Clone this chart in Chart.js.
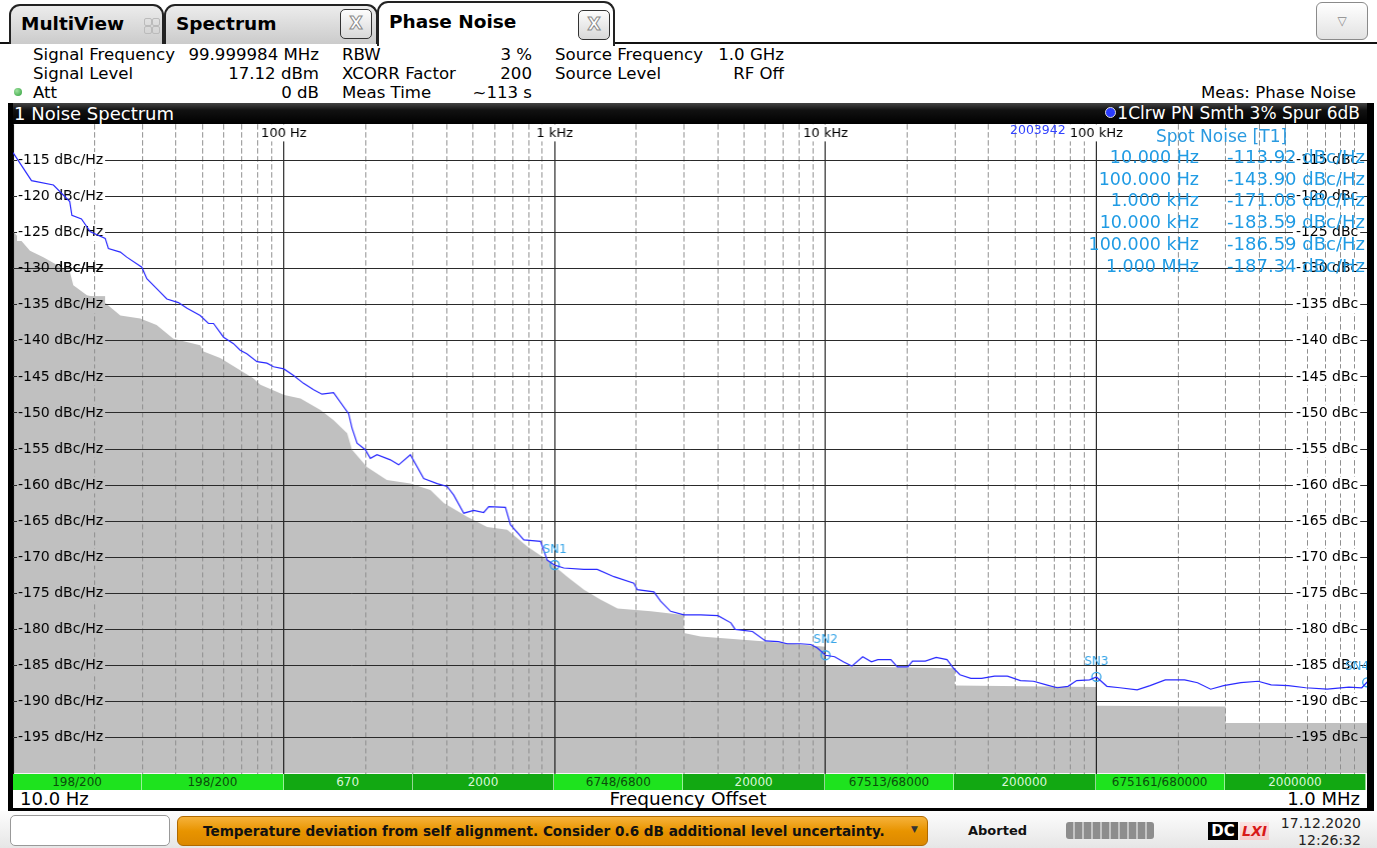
<!DOCTYPE html>
<html><head><meta charset="utf-8">
<script src="https://cdn.jsdelivr.net/npm/chart.js@4.4.0/dist/chart.umd.min.js"></script>
<style>
body{margin:0;width:1377px;height:848px;overflow:hidden;background:#fff;font-family:'DejaVu Sans',sans-serif;position:relative;color:#000}
.a{position:absolute;white-space:nowrap}
.tab{position:absolute;border:2px solid #222;border-bottom:none;border-radius:11px 11px 0 0;box-sizing:border-box}
.tabt{position:absolute;font-weight:bold;font-size:18.5px;top:7px}
.xb{position:absolute;width:32px;height:30px;border:1.5px solid #333;border-radius:5px;box-sizing:border-box;background:linear-gradient(#fdfdfd,#d8d8d8);text-align:center;font:bold 17px 'DejaVu Sans';line-height:27px;color:#fff;-webkit-text-stroke:1px #8a8a8a}
.hl{font-size:16.6px;line-height:19px}
.seg{position:absolute;top:774px;height:16px;font-size:12px;line-height:16px;text-align:center;box-sizing:border-box;border-right:1px solid rgba(255,255,255,0.55);overflow:hidden}
#wrap{position:absolute;z-index:1}
.bar{position:absolute;background:#000;z-index:3}
</style></head><body>

<!-- tab strip -->
<div class="a" style="left:0;top:42px;width:1377px;height:2px;background:#111"></div>
<div class="tab" style="left:9px;top:4px;width:155px;height:40px;background:linear-gradient(#ececec,#cbcbcb)">
  <div class="tabt" style="left:10px">MultiView</div>
  <div class="a" style="left:133px;top:12px;width:6px;height:6px;border:1px solid #bbb;border-radius:2px"></div>
  <div class="a" style="left:141px;top:12px;width:6px;height:6px;border:1px solid #bbb;border-radius:2px"></div>
  <div class="a" style="left:133px;top:20px;width:6px;height:6px;border:1px solid #bbb;border-radius:2px"></div>
  <div class="a" style="left:141px;top:20px;width:6px;height:6px;border:1px solid #bbb;border-radius:2px"></div>
</div>
<div class="tab" style="left:164px;top:4px;width:214px;height:40px;background:linear-gradient(#ececec,#cbcbcb)">
  <div class="tabt" style="left:10px">Spectrum</div>
  <div class="xb" style="left:174px;top:3px">X</div>
</div>
<div class="tab" style="left:377px;top:1px;width:238px;height:45px;background:#fff;z-index:2">
  <div class="tabt" style="left:10px;top:8px">Phase Noise</div>
  <div class="xb" style="left:199px;top:7px">X</div>
</div>
<div class="a" style="left:1316px;top:2px;width:52px;height:38px;border:1px solid #8a8a8a;border-radius:6px;box-sizing:border-box;background:linear-gradient(#fff,#e2e2e2);text-align:center;line-height:36px;font-size:12px;color:#888">▽</div>

<!-- header -->
<div class="a hl" style="left:33px;top:45px">Signal Frequency</div>
<div class="a hl" style="left:33px;top:64px">Signal Level</div>
<div class="a hl" style="left:33px;top:83px">Att</div>
<div class="a" style="left:14px;top:88px;width:8px;height:8px;border-radius:50%;background:radial-gradient(circle at 35% 35%,#9fe39f,#2e9e3a)"></div>
<div class="a hl" style="right:1058px;top:45px">99.999984 MHz</div>
<div class="a hl" style="right:1058px;top:64px">17.12 dBm</div>
<div class="a hl" style="right:1058px;top:83px">0 dB</div>
<div class="a hl" style="left:342px;top:45px">RBW</div>
<div class="a hl" style="left:342px;top:64px">XCORR Factor</div>
<div class="a hl" style="left:342px;top:83px">Meas Time</div>
<div class="a hl" style="right:845px;top:45px">3 %</div>
<div class="a hl" style="right:845px;top:64px">200</div>
<div class="a hl" style="right:845px;top:83px">~113 s</div>
<div class="a hl" style="left:555px;top:45px">Source Frequency</div>
<div class="a hl" style="left:555px;top:64px">Source Level</div>
<div class="a hl" style="right:593px;top:45px">1.0 GHz</div>
<div class="a hl" style="right:593px;top:64px">RF Off</div>
<div class="a hl" style="right:21px;top:83px">Meas: Phase Noise</div>

<!-- frame -->
<div class="bar" style="left:8px;top:103px;width:1366px;height:21px;background:linear-gradient(#444 0,#111 35%,#000 100%)"></div>
<div class="a" style="left:14px;top:103px;height:21px;line-height:21px;font-size:18px;color:#fff;z-index:4">1 Noise Spectrum</div>
<div class="a" style="right:17px;top:103px;height:21px;line-height:21px;font-size:17px;color:#fff;z-index:4"><span style="display:inline-block;width:9px;height:9px;border-radius:50%;background:#2a3cff;border:1px solid #ddd;vertical-align:1px;margin-right:1px"></span>1Clrw PN Smth 3% Spur 6dB</div>
<div class="bar" style="left:8px;top:103px;width:5px;height:708px"></div>
<div class="bar" style="left:1367px;top:103px;width:7px;height:708px"></div>
<div class="bar" style="left:8px;top:808px;width:1366px;height:3px"></div>

<div id="wrap"><canvas id="c"></canvas></div>

<!-- spot noise table -->
<div class="a" style="left:1156px;top:126px;font-size:17px;color:#2a9ae0;z-index:2">Spot Noise [T1]</div>
<div id="spot"></div>
<div class="a" style="left:1010px;top:122px;font-size:12.5px;color:#3344ff;z-index:2">2003942</div>

<div id="segs"></div>
<div class="a" style="left:20px;top:789px;font-size:18px;line-height:20px">10.0 Hz</div>
<div class="a" style="left:688px;top:789px;font-size:18.5px;line-height:20px;transform:translateX(-50%)">Frequency Offset</div>
<div class="a" style="right:17px;top:789px;font-size:18px;line-height:20px">1.0 MHz</div>

<!-- status bar -->
<div class="a" style="left:0;top:811px;width:1377px;height:37px;background:linear-gradient(#fdfdfd,#e6e6e6)"></div>
<div class="a" style="left:10px;top:815px;width:160px;height:31px;border:1px solid #999;border-radius:5px;background:#fff;box-sizing:border-box"></div>
<div class="a" style="left:177px;top:816px;width:751px;height:30px;border:1px solid #b06a00;border-radius:6px;background:linear-gradient(#f6b23a,#e89400 50%,#dc8800);box-sizing:border-box"></div>
<div class="a" style="left:203px;top:822px;font:bold 13.6px 'DejaVu Sans';line-height:18px;color:#111">Temperature deviation from self alignment. Consider 0.6 dB additional level uncertainty.</div>
<div class="a" style="left:911px;top:824px;font-size:9px;color:#333">▼</div>
<div class="a" style="left:968px;top:822px;font:bold 13px 'DejaVu Sans';line-height:17px;color:#111">Aborted</div>
<div class="a" style="left:1066px;top:822px;width:88px;height:17px;border-radius:3px;background:repeating-linear-gradient(90deg,#8d8d8d 0 7px,#c4c4c4 7px 9px)"></div>
<div class="a" style="left:1208px;top:822px;width:30px;height:18px;background:#000;color:#fff;font:bold 15px 'DejaVu Sans';line-height:18px;text-align:center">DC</div>
<div class="a" style="left:1240px;top:822px;width:29px;height:18px;color:#d81818;font:italic bold 14px 'DejaVu Sans';line-height:18px;text-align:center;background:linear-gradient(#fbe3e3,#f6c9c9)">LXI</div>
<div class="a" style="right:16px;top:815px;font-size:14px;line-height:16px;color:#222">17.12.2020</div>
<div class="a" style="right:16px;top:832px;font-size:14px;line-height:16px;color:#222">12:26:32</div>

<script>
// ---------- data ----------
const traceFreq = [10,11.7,14.1,16.2,16.5,17.9,19.3,21.9,22.5,24.9,26.3,29.9,31.2,34.0,37.0,40.8,43.9,49.1,52.7,55.0,59.9,65.2,69.0,73.0,79.6,86.6,91.6,100,108.6,118.2,128.8,138.3,152.6,173.4,178.5,186.3,199.9,208.6,220.8,247.3,265.4,293.2,328.4,368,400.7,423.9,461.6,502.3,547,570.8,658,686.7,768.8,886.2,938.3,1000,1080,1281,1436,1654,1960,2018,2324,2460,2679,3000,3458,4007,4471,4638,5374,6002,6697,7213,8051,8824,9327,10000,10805,11627,12510,13712,14766,15595,17418,18408,20130,20936,23363,25615,28075,29673,31333,34383,37700,42053,46970,52420,58560,65350,71640,78560,84530,94380,100000,109350,122050,141400,157800,179600,211800,236400,264100,294900,341500,395700,441800,511400,592500,711600,855800,955000,1000000];
const traceDb = [-113.9,-117.8,-118.4,-120.7,-122.6,-123.1,-124.9,-125.8,-127.2,-127.7,-128.4,-129.8,-131.4,-132.8,-134.2,-134.7,-135.5,-136.5,-137.6,-137.6,-139.5,-140.4,-141.3,-141.8,-142.9,-143.1,-143.6,-143.9,-144.8,-145.9,-146.8,-147.4,-147.2,-150.1,-152.1,-154.2,-155.1,-156.3,-155.8,-156.5,-157.2,-155.8,-159.1,-159.8,-160.2,-161.4,-163.9,-163.5,-163.8,-163.0,-163.1,-165.5,-167.6,-167.8,-170.4,-171.1,-171.5,-171.7,-171.7,-172.7,-173.6,-174.5,-174.8,-176.1,-177.5,-178.0,-178.0,-178.1,-179.1,-180.0,-180.3,-181.6,-181.7,-182.0,-182.0,-182.1,-182.6,-183.6,-183.8,-184.5,-185.1,-183.8,-184.5,-184.2,-184.2,-185.2,-185.2,-184.4,-184.4,-183.9,-184.2,-185.4,-186.3,-186.8,-186.8,-186.5,-186.5,-187.1,-187.2,-187.7,-188.1,-187.9,-187.1,-187.0,-186.6,-187.9,-188.1,-188.4,-187.8,-187.0,-187.0,-187.4,-188.3,-187.8,-187.4,-187.2,-187.7,-187.8,-188.1,-188.3,-188.0,-188.1,-187.3];
const floorFreq = [10,11.55,12.94,16.24,16.7,18.75,20.9,24.9,29.5,33.9,39.1,49.1,50.5,58.2,77.1,81.9,100.3,115.2,136.5,152.8,171.3,178.5,202.7,240,293.2,347.6,389.4,475,563,668,792,938,1112,1283,1480,1706,2265,3000,3000,3458,6002,10000,10000,30000,30000,100000,100000,300000,300000,1000000];
const floorDb = [-124.8,-127.5,-128.4,-130.5,-132.3,-133.7,-134.1,-136.5,-136.9,-137.8,-139.7,-140.6,-141.5,-142.4,-145.2,-146.1,-147.5,-148.0,-149.6,-151.0,-152.8,-155.1,-157.5,-159.3,-159.8,-160.7,-162.5,-164.4,-165.8,-166.2,-168.5,-170.4,-172.7,-174.5,-175.9,-177.1,-177.5,-178.0,-180.5,-181.0,-181.7,-182.4,-185.1,-185.4,-187.8,-188.0,-190.6,-190.7,-193.0,-193.0];
const spotFreq = [10,100,1000,10000,100000,1000000];
const spotDb = [-113.92,-143.90,-171.08,-183.59,-186.59,-187.34];
const spotFreqText = ['10.000 Hz','100.000 Hz','1.000 kHz','10.000 kHz','100.000 kHz','1.000 MHz'];
const markerIdx = [2,3,4,5];
const markerNames = ['SN1','SN2','SN3','SN4'];
const decadeTicks = [10,100,1000,10000,100000,1000000];
const decadeLabels = ['','100 Hz','1 kHz','10 kHz','100 kHz',''];
const minorMult = [2,3,4,5,6,7,8,9];
const yTicks = [-195,-190,-185,-180,-175,-170,-165,-160,-155,-150,-145,-140,-135,-130,-125,-120,-115];
const segEdges = [10,30,100,300,1000,3000,10000,30000,100000,300000,1000000];
const segLabels = ['198/200','198/200','670','2000','6748/6800','20000','67513/68000','200000','675161/680000','2000000'];
const segBright = [1,1,0,0,1,0,1,0,1,0];

// ---------- table (text) ----------
const spotDiv = document.getElementById('spot');
const rowTop = [147,169,190,212,234,256];
spotFreqText.forEach((t,i)=>{
  spotDiv.insertAdjacentHTML('beforeend',
   `<div class="a" style="right:178px;top:${rowTop[i]}px;font-size:17.5px;line-height:20px;color:#1f9be4;z-index:2">${t}</div>`+
   `<div class="a" style="right:12px;top:${rowTop[i]}px;font-size:18px;line-height:20px;color:#1f9be4;z-index:2">${spotDb[i].toFixed(2)} dBc/Hz</div>`);
});

const minorTicks = [];
decadeTicks.slice(0,-1).forEach(d=>minorMult.forEach(m=>minorTicks.push(d*m)));

const FILL = '#c0c0c0';
const leftBackdrop = v => v >= -125 ? '#ffffff' : (v === -130 ? 'rgba(255,255,255,0)' : FILL);
const rightBackdrop = v => v <= -195 ? FILL : '#ffffff';

const overlay = {
  id:'overlay',
  afterDatasetDraw(chart,args){
    if(args.index===2){ ['xm','x','y','y2'].forEach(k=>chart.scales[k].draw(chart.chartArea)); }
  },
  afterDraw(chart){
    const ctx=chart.ctx, xs=chart.scales.x, ca=chart.chartArea;
    ctx.save();
    ctx.font='13px "DejaVu Sans"'; ctx.textAlign='center'; ctx.textBaseline='middle';
    decadeTicks.forEach((f,i)=>{
      const lab=decadeLabels[i]; if(!lab) return;
      const px=xs.getPixelForValue(f); const w=ctx.measureText(lab).width;
      ctx.fillStyle='#fff'; ctx.fillRect(px-w/2-1, ca.top, w+2, 17);
      ctx.fillStyle='#000'; ctx.fillText(lab, px, ca.top+9);
    });
    ctx.beginPath(); ctx.rect(ca.left,ca.top,ca.width,ca.height); ctx.clip();
    ctx.font='12px "DejaVu Sans"'; ctx.fillStyle='#3aa6e8';
    chart.getDatasetMeta(1).data.forEach((pt,i)=>{
      const w=ctx.measureText(markerNames[i]).width;
      const x=Math.min(pt.x, ca.right-w/2+2);
      ctx.fillText(markerNames[i], x, pt.y-15);
    });
    ctx.restore();
  }
};

function cfg(){
  return {
    type:'line',
    data:{datasets:[
      {data:traceFreq.map((f,i)=>({x:f,y:traceDb[i]})), borderColor:'#2a2aff', borderWidth:1.2, pointRadius:0, fill:false, tension:0, xAxisID:'x', yAxisID:'y'},
      {data:markerIdx.map(i=>({x:spotFreq[i],y:spotDb[i]})), showLine:false, pointRadius:4.5, pointHoverRadius:4.5, pointBorderColor:'#33a3e8', pointBackgroundColor:'rgba(0,0,0,0)', pointBorderWidth:1.3, xAxisID:'x', yAxisID:'y'},
      {data:floorFreq.map((f,i)=>({x:f,y:floorDb[i]})), borderWidth:0, borderColor:'rgba(0,0,0,0)', pointRadius:0, fill:'start', backgroundColor:FILL, tension:0, xAxisID:'x', yAxisID:'y'}
    ]},
    options:{
      animation:false, responsive:false, maintainAspectRatio:false, events:[],
      layout:{padding:0},
      plugins:{legend:{display:false}, tooltip:{enabled:false}},
      scales:{
        x:{type:'logarithmic', position:'bottom', min:10, max:1e6,
           afterBuildTicks:s=>{s.ticks=decadeTicks.map(v=>({value:v}));},
           ticks:{display:false}, grid:{color:'#000', lineWidth:1, drawTicks:false}, border:{display:false}},
        xm:{type:'logarithmic', position:'bottom', min:10, max:1e6,
           afterBuildTicks:s=>{s.ticks=minorTicks.map(v=>({value:v}));},
           ticks:{display:false}, grid:{color:'#8f8f8f', lineWidth:1, drawTicks:false}, border:{display:false, dash:[5,3]}},
        y:{type:'linear', position:'left', min:-200, max:-110,
           afterBuildTicks:s=>{s.ticks=yTicks.map(v=>({value:v}));},
           grid:{color:'#2a2a2a', lineWidth:1, drawTicks:false}, border:{display:false},
           ticks:{mirror:true, padding:5, color:'#000', font:{family:'DejaVu Sans', size:14},
             callback:v=>v+' dBc/Hz', showLabelBackdrop:true,
             backdropColor:c=>leftBackdrop(c.tick.value), backdropPadding:{left:1,right:2,top:0,bottom:0}}},
        y2:{type:'linear', position:'right', min:-200, max:-110,
           afterBuildTicks:s=>{s.ticks=yTicks.map(v=>({value:v}));},
           grid:{display:false, drawTicks:false}, border:{display:false},
           ticks:{mirror:true, padding:0, color:'#000', font:{family:'DejaVu Sans', size:14},
             callback:v=>v+' dBc  ', showLabelBackdrop:true,
             backdropColor:c=>rightBackdrop(c.tick.value), backdropPadding:{left:3,right:-7,top:0,bottom:0}}}
      }
    },
    plugins:[overlay]
  };
}

const wrap=document.getElementById('wrap');
let cv=document.getElementById('c');
function setSize(w,h){cv.width=w;cv.height=h;cv.style.width=w+'px';cv.style.height=h+'px';wrap.style.width=w+'px';wrap.style.height=h+'px';}
setSize(1400,700);
let chart=new Chart(cv,cfg());
const ca0=chart.chartArea;
const ml=ca0.left, mt=ca0.top, mr=1400-ca0.right, mb=700-ca0.bottom;
chart.destroy();
const W=1354+ml+mr, H=650+mt+mb;
setSize(W,H);
wrap.style.left=(13-ml)+'px'; wrap.style.top=(124-mt)+'px';
chart=new Chart(cv,cfg());

// measurement-segment strip
const xs=chart.scales.x, offX=13-ml;
const segDiv=document.getElementById('segs');
segLabels.forEach((t,i)=>{
  const l=offX+xs.getPixelForValue(segEdges[i]), r=offX+xs.getPixelForValue(segEdges[i+1]);
  const b=segBright[i];
  segDiv.insertAdjacentHTML('beforeend',
    `<div class="seg" style="left:${l}px;width:${r-l}px;background:${b?'#1ee31e':'#12a812'};color:${b?'#0b4d0b':'#d8f7d8'}">${t}</div>`);
});
</script>
</body></html>
